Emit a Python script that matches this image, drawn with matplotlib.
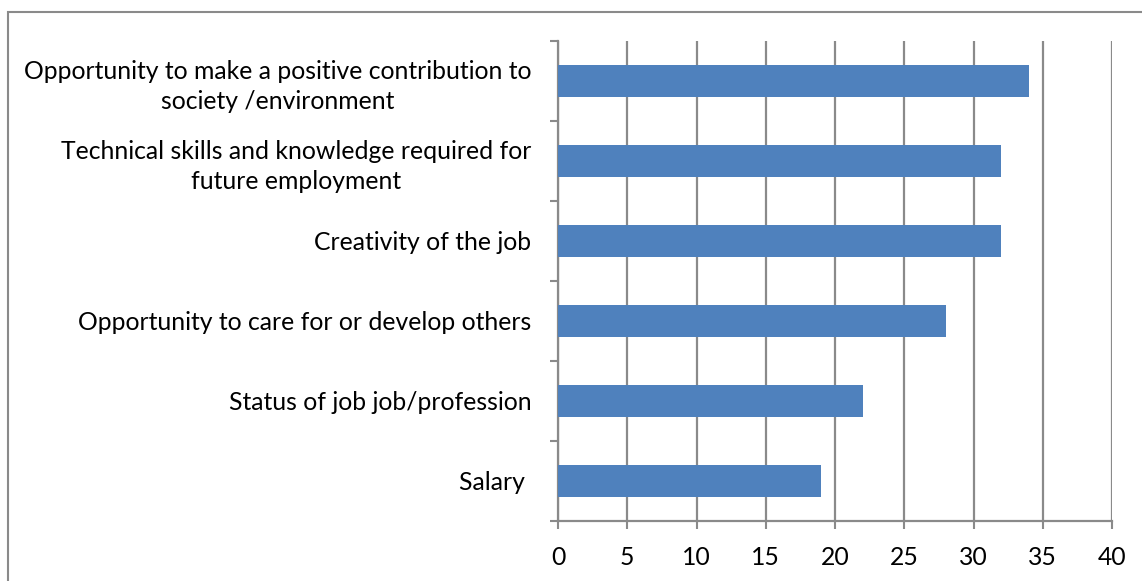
import numpy as np
import matplotlib.pyplot as plt
from matplotlib.patches import Rectangle

# datos
categories = [
    "Opportunity to make a positive contribution to\nsociety /environment",
    "Technical skills and knowledge required for\nfuture employment",
    "Creativity of the job",
    "Opportunity to care for or develop others",
    "Status of job job/profession",
    "Salary ",
]
values = [34, 32, 32, 28, 22, 19]
xticks = [0, 5, 10, 15, 20, 25, 30, 35, 40]

W, H = 1142, 581
plt.rcParams['font.family'] = ['Lato', 'DejaVu Sans']
plt.rcParams['font.size'] = 17.8

fig = plt.figure(figsize=(W / 100, H / 100), dpi=100)
ax = fig.add_axes([558 / W, 1 - 521 / H, (1112 - 558) / W, (521 - 41) / H])

grey = '#8a8a8a'
y = np.arange(len(categories))
ax.barh(y, values, height=0.4, color='#4F81BD', zorder=3)

ax.set_xlim(0, 40)
ax.set_ylim(len(categories) - 0.5, -0.5)
ax.set_xticks(xticks)
ax.set_xticklabels([str(v) for v in xticks])

# ticks en los limites de categoria, etiquetas en el centro
ax.set_yticks(np.arange(-0.5, len(categories), 1.0))
ax.set_yticklabels([])
ax.set_yticks(y, minor=True)
ax.set_yticklabels(categories, minor=True, ha='right', multialignment='center',
                   linespacing=1.35)
ax.tick_params(axis='y', which='minor', length=0, pad=19)
ax.tick_params(axis='y', which='major', length=6, width=1.5, color=grey, direction='out')
ax.tick_params(axis='x', length=6, width=1.5, color=grey, direction='out', pad=12)

ax.grid(axis='x', color=grey, linewidth=1.6, zorder=0)
ax.grid(axis='y', visible=False)
for side in ['top', 'right']:
    ax.spines[side].set_visible(False)
for side in ['left', 'bottom']:
    ax.spines[side].set_color(grey)
    ax.spines[side].set_linewidth(1.6)

# borde exterior del grafico
fig.patches.append(Rectangle((7.5 / W, -0.1), 1.2, 1 - 12.5 / H + 0.1,
                             transform=fig.transFigure, fill=False,
                             edgecolor=grey, linewidth=1.5))

plt.savefig('out.png', dpi=100)
